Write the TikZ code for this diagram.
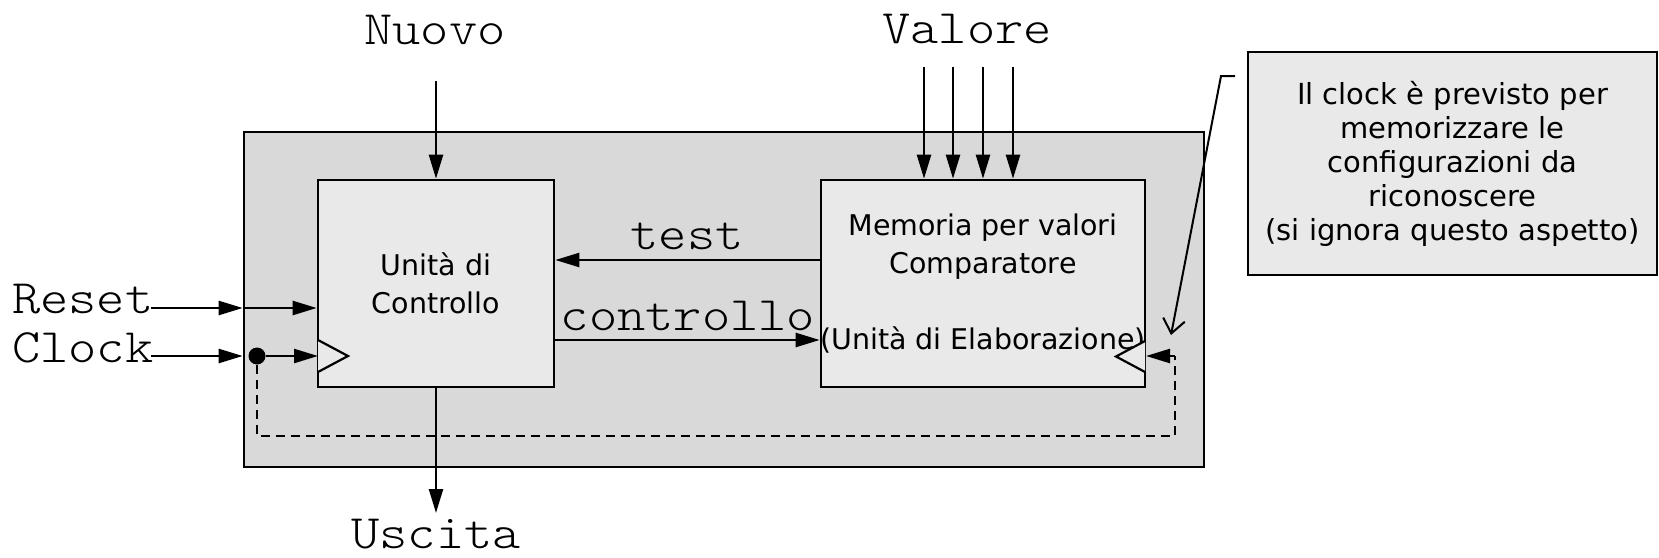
\documentclass[tikz,border=0pt]{standalone}
\usepackage{fontspec}
\setmainfont{DejaVu Sans}
\setmonofont[FakeStretch=1.12]{Latin Modern Mono Light}
\usetikzlibrary{arrows.meta}

\definecolor{sysgray}{HTML}{D9D9D9}
\definecolor{blockgray}{HTML}{E9E9E9}

\tikzset{
  wire/.style={line width=2.4pt},
  arr/.style={wire, -{Triangle[length=24pt,width=14pt]}},
  outerbox/.style={draw, line width=2.6pt, fill=sysgray, inner sep=0pt},
  block/.style={draw, line width=2.6pt, fill=blockgray, inner sep=0pt},
  blocktext/.style={inner sep=0pt, align=center, font=\fontsize{28.5}{38}\selectfont},
  note/.style={draw, line width=2.2pt, fill=blockgray, inner sep=0pt,
    align=center, font=\fontsize{29}{34}\selectfont},
  sig/.style={font=\ttfamily\fontsize{48}{50}\selectfont, inner sep=0pt},
  clk/.style={line width=2.2pt, fill=blockgray},
}

\begin{document}
\begin{tikzpicture}[x=1pt,y=-1pt]
\useasboundingbox (0,0) rectangle (1659,557);

% system boundary
\node[outerbox, minimum width=960pt, minimum height=335pt] (sys) at (724,299.5) {};

% the two units
\node[block, minimum width=236pt, minimum height=207pt] (ctl) at (436,283.5) {};
\node[blocktext] (ctlText) at (ctl.center) {Unità di\\Controllo};
\node[block, minimum width=324pt, minimum height=207pt] (elab) at (983,283.5) {};
\node[blocktext] (elabText) at (elab.center)
  {Memoria per valori\\Comparatore\\[38pt](Unità di Elaborazione)};

% clock inputs
\draw[clk] (318,340) -- (348,356) -- (318,372);
\draw[clk] (1145,341) -- (1116,356.5) -- (1145,372);

% note on the right
\node[note, minimum width=409pt, minimum height=223pt] (nota) at (1452.5,163.5)
  {Il clock è previsto per\\memorizzare le\\configurazioni da\\riconoscere\\(si ignora questo aspetto)};

% signal names
\node[sig, anchor=base] (nuovo) at (435,44) {Nuovo};
\node[sig, anchor=base] (valore) at (967,43) {Valore};
\node[sig, anchor=base west] (reset) at (12,313) {Reset};
\node[sig, anchor=base west] (clock) at (12,362) {Clock};
\node[sig, anchor=base] (uscita) at (436,548) {Uscita};
\node[sig, anchor=base] (test) at (687,249) {test};
\node[sig, anchor=base] (controllo) at (688,330) {controllo};

% connector end points
\coordinate (nuovoIn) at (436,81);
\coordinate (v1) at (924,67);
\coordinate (v2) at (953,67);
\coordinate (v3) at (983,67);
\coordinate (v4) at (1013,67);
\coordinate (uscOut) at (436,513);
\coordinate (rstEnd) at (151,308);
\coordinate (clkEnd) at (151,356);
\coordinate (rstB) at (sys.west |- rstEnd);
\coordinate (clkB) at (sys.west |- clkEnd);
\node[circle, fill, inner sep=0pt, minimum size=17pt] (dot) at (257,356) {};
\coordinate (ctlClk) at (318,356);
\coordinate (elabClk) at (1146,356);
\coordinate (dashRight) at (1175,356);
\coordinate (dashLow) at (1175,436);
\coordinate (leadStart) at (1235,76);
\coordinate (leadBend) at (1221,76);
\coordinate (leadTip) at (1171,335);

% inputs and output
\draw[arr] (nuovoIn) -- (nuovoIn |- ctl.north);
\foreach \v in {v1,v2,v3,v4}
  \draw[arr] (\v) -- (\v |- elab.north);
\draw[arr] (ctl.south -| uscOut) -- (uscOut);

\draw[arr] (rstEnd) -- (rstB);
\draw[arr] (rstB) -- (rstB -| ctl.west);
\draw[arr] (clkEnd) -- (clkB);
\draw[arr] (dot) -- (ctlClk);

% internal signals
\draw[arr] (elab.west |- 0,260) -- (ctl.east |- 0,260);
\draw[arr] (ctl.east |- 0,340) -- (elab.west |- 0,340);

% clock distribution (dashed)
\draw[wire, dash pattern=on 9pt off 6pt] (dot) -- (dot |- dashLow) -- (dashLow) -- (dashRight);
\draw[arr] (dashRight) -- (elabClk);

% pointer from the note
\draw[line width=2pt, -{Straight Barb[length=14pt,width=22pt]}]
  (leadStart) -- (leadBend) -- (leadTip);
\end{tikzpicture}
\end{document}
